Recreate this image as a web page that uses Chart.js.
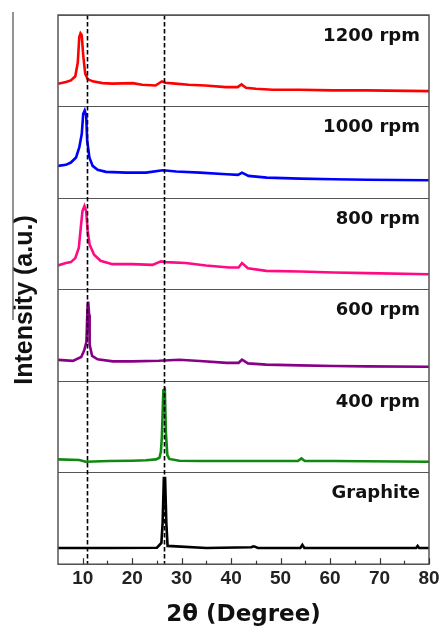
<!DOCTYPE html>
<html>
<head>
<meta charset="utf-8">
<script src="https://cdn.jsdelivr.net/npm/chart.js@4/dist/chart.umd.min.js"></script>
<style>
html,body{margin:0;padding:0;background:#fff;}
canvas{display:block;}
</style>
</head>
<body>
<canvas id="c" width="439" height="627"></canvas>
<script>
// ---- tick labels / reference lines ----
const xTickLabels = [10, 20, 30, 40, 50, 60, 70, 80];
const xMinorTicks = [15, 25, 35, 45, 55, 65, 75];
const dashedPositions = [10.9, 26.4];

// ---- sample names (bottom panel first) ----
const sampleNames = ['Graphite', '400 rpm', '600 rpm', '800 rpm', '1000 rpm', '1200 rpm'];
const sampleColors = ['#000000', '#118811', '#880088', '#ff0a84', '#0000ff', '#ff0000'];

// ---- series values (2θ in degrees, normalized intensity a.u.) ----
const tt_graphite  = [5, 15, 25.0, 25.9, 26.15, 26.4, 26.65, 26.9, 27.15, 35, 44.1, 44.5, 44.8, 45.4, 54.0, 54.4, 54.8, 65, 77.4, 77.7, 78.0, 80];
const int_graphite = [0.177, 0.177, 0.18, 0.232, 0.45, 0.94, 0.94, 0.45, 0.2, 0.177, 0.185, 0.196, 0.192, 0.177, 0.177, 0.21, 0.177, 0.177, 0.177, 0.2, 0.177, 0.177];

const tt_400  = [5, 9.3, 10.6, 15.3, 20.0, 22.8, 24.8, 25.5, 25.8, 26.0, 26.2, 26.3, 26.6, 26.8, 27.1, 27.5, 29.5, 33.7, 40.5, 47.1, 53.5, 54.2, 54.9, 60.7, 80];
const int_400 = [0.145, 0.138, 0.12, 0.127, 0.13, 0.135, 0.145, 0.163, 0.228, 0.39, 0.736, 0.90, 0.91, 0.446, 0.192, 0.15, 0.13, 0.127, 0.127, 0.127, 0.127, 0.155, 0.127, 0.127, 0.12];

const tt_600  = [5, 8.0, 9.7, 10.3, 10.75, 10.95, 11.1, 11.3, 11.4, 11.9, 13.0, 16.1, 20.0, 25.4, 29.5, 33.7, 39.1, 41.5, 42.2, 43.4, 47.1, 53.9, 60.7, 67.5, 80];
const int_600 = [0.232, 0.222, 0.264, 0.337, 0.43, 0.795, 0.868, 0.725, 0.396, 0.275, 0.238, 0.216, 0.216, 0.223, 0.234, 0.22, 0.2, 0.2, 0.234, 0.194, 0.18, 0.172, 0.165, 0.161, 0.157];

const tt_800  = [5, 6.6, 7.6, 8.5, 9.2, 9.6, 9.95, 10.35, 10.7, 11.0, 11.4, 12.3, 13.6, 16.0, 20.0, 24.1, 25.8, 26.8, 30.8, 34.9, 39.6, 41.5, 42.2, 43.4, 47.1, 53.9, 60.7, 67.5, 80];
const int_800 = [0.264, 0.29, 0.30, 0.344, 0.454, 0.674, 0.857, 0.912, 0.857, 0.637, 0.49, 0.38, 0.315, 0.278, 0.278, 0.27, 0.308, 0.30, 0.29, 0.264, 0.242, 0.242, 0.29, 0.234, 0.205, 0.198, 0.187, 0.18, 0.168];

const tt_1000  = [5, 6.6, 7.6, 8.65, 9.3, 9.8, 10.1, 10.4, 10.7, 10.9, 11.35, 12.0, 13.0, 14.7, 18.8, 22.8, 26.2, 28.9, 33.7, 39.1, 41.4, 42.2, 43.5, 47.2, 53.9, 60.7, 67.5, 80];
const int_1000 = [0.352, 0.363, 0.388, 0.443, 0.553, 0.70, 0.92, 0.956, 0.90, 0.626, 0.443, 0.352, 0.308, 0.286, 0.278, 0.278, 0.304, 0.29, 0.278, 0.26, 0.253, 0.278, 0.242, 0.223, 0.212, 0.205, 0.2, 0.194];

const tt_1200  = [5, 6.6, 7.6, 8.5, 9.0, 9.3, 9.55, 9.8, 10.1, 10.5, 11.0, 12.0, 14.0, 16.0, 20.1, 22.0, 24.7, 26.0, 26.7, 28.7, 31.4, 34.8, 38.9, 41.3, 42.1, 43.0, 45.0, 48.4, 53.8, 60.6, 67.3, 80];
const int_1200 = [0.249, 0.267, 0.286, 0.33, 0.48, 0.76, 0.80, 0.78, 0.56, 0.36, 0.30, 0.275, 0.256, 0.25, 0.256, 0.238, 0.23, 0.275, 0.26, 0.25, 0.238, 0.23, 0.212, 0.212, 0.242, 0.205, 0.194, 0.183, 0.183, 0.176, 0.176, 0.168];

const seriesX = [tt_graphite, tt_400, tt_600, tt_800, tt_1000, tt_1200];
const seriesY = [int_graphite, int_400, int_600, int_800, int_1000, int_1200];

// each sample occupies one unit-high panel of the y scale
const datasets = sampleNames.map((name, i) => ({
  label: name,
  data: seriesX[i].map((x, k) => ({ x: x, y: seriesY[i][k] + i })),
  borderColor: sampleColors[i],
  backgroundColor: sampleColors[i],
  borderWidth: 2.6,
  pointRadius: 0,
  tension: 0,
  fill: false
}));

const decorPlugin = {
  id: 'decor',
  afterDatasetsDraw(chart) {
    const ctx = chart.ctx;
    const a = chart.chartArea;
    const xs = chart.scales.x;
    const ys = chart.scales.y;
    ctx.save();
    // dashed reference lines
    ctx.strokeStyle = '#000';
    ctx.lineWidth = 1.6;
    ctx.setLineDash([4.5, 2.5]);
    dashedPositions.forEach(v => {
      const px = Math.round(xs.getPixelForValue(v)) + 0.5;
      ctx.beginPath();
      ctx.moveTo(px, a.top);
      ctx.lineTo(px, a.bottom);
      ctx.stroke();
    });
    ctx.setLineDash([]);
    // frame
    ctx.strokeStyle = '#555';
    ctx.lineWidth = 1.5;
    ctx.strokeRect(a.left, a.top, a.right - a.left, a.bottom - a.top);
    // inward tick marks
    ctx.strokeStyle = '#333';
    ctx.lineWidth = 1.2;
    xTickLabels.forEach(v => {
      const px = Math.round(xs.getPixelForValue(v)) + 0.5;
      ctx.beginPath(); ctx.moveTo(px, a.bottom); ctx.lineTo(px, a.bottom - 6); ctx.stroke();
    });
    xMinorTicks.forEach(v => {
      const px = Math.round(xs.getPixelForValue(v)) + 0.5;
      ctx.beginPath(); ctx.moveTo(px, a.bottom); ctx.lineTo(px, a.bottom - 3.5); ctx.stroke();
    });
    // panel labels
    ctx.fillStyle = '#111';
    ctx.font = 'bold 18px "DejaVu Sans"';
    ctx.textAlign = 'right';
    ctx.textBaseline = 'middle';
    sampleNames.forEach((name, i) => {
      ctx.fillText(name, a.right - 9, ys.getPixelForValue(i + 0.77));
    });
    // y axis title
    ctx.save();
    ctx.translate(25, 300);
    ctx.rotate(-Math.PI / 2);
    ctx.textAlign = 'center';
    ctx.textBaseline = 'middle';
    ctx.font = 'bold 25px "Liberation Sans"';
    ctx.fillStyle = '#111';
    ctx.fillText('Intensity (a.u.)', 0, 0);
    ctx.restore();
    // thin line at far left (as in the source figure)
    ctx.strokeStyle = '#666';
    ctx.lineWidth = 1.4;
    ctx.beginPath(); ctx.moveTo(13, 12); ctx.lineTo(13, 320); ctx.stroke();
    ctx.restore();
  }
};

new Chart(document.getElementById('c'), {
  type: 'line',
  data: { datasets: datasets },
  plugins: [decorPlugin],
  options: {
    responsive: false,
    animation: false,
    devicePixelRatio: 1,
    parsing: true,
    layout: { padding: { left: 58, right: 10, top: 15, bottom: 0 } },
    plugins: { legend: { display: false }, tooltip: { enabled: false } },
    scales: {
      x: {
        type: 'linear',
        min: 5,
        max: 80,
        afterBuildTicks: s => { s.ticks = xTickLabels.map(v => ({ value: v })); },
        afterFit: s => { s.paddingRight = 0; s.paddingLeft = 0; },
        grid: { display: false, drawTicks: false },
        border: { display: false },
        ticks: {
          padding: 3,
          color: '#222',
          autoSkip: false,
          maxRotation: 0,
          font: { family: 'Liberation Sans', weight: 'bold', size: 19, lineHeight: 1.2 }
        },
        title: {
          display: true,
          text: '2θ (Degree)',
          color: '#111',
          font: { family: 'DejaVu Sans', weight: 'bold', size: 23, lineHeight: 1.0 },
          padding: { top: 11, bottom: 0 }
        }
      },
      y: {
        type: 'linear',
        min: 0,
        max: sampleNames.length,
        afterBuildTicks: s => { s.ticks = sampleNames.map((n, i) => ({ value: i })).concat([{ value: sampleNames.length }]); },
        ticks: { display: false },
        grid: { color: '#555', lineWidth: 1, drawTicks: false },
        border: { display: false }
      }
    }
  }
});
</script>
</body>
</html>
